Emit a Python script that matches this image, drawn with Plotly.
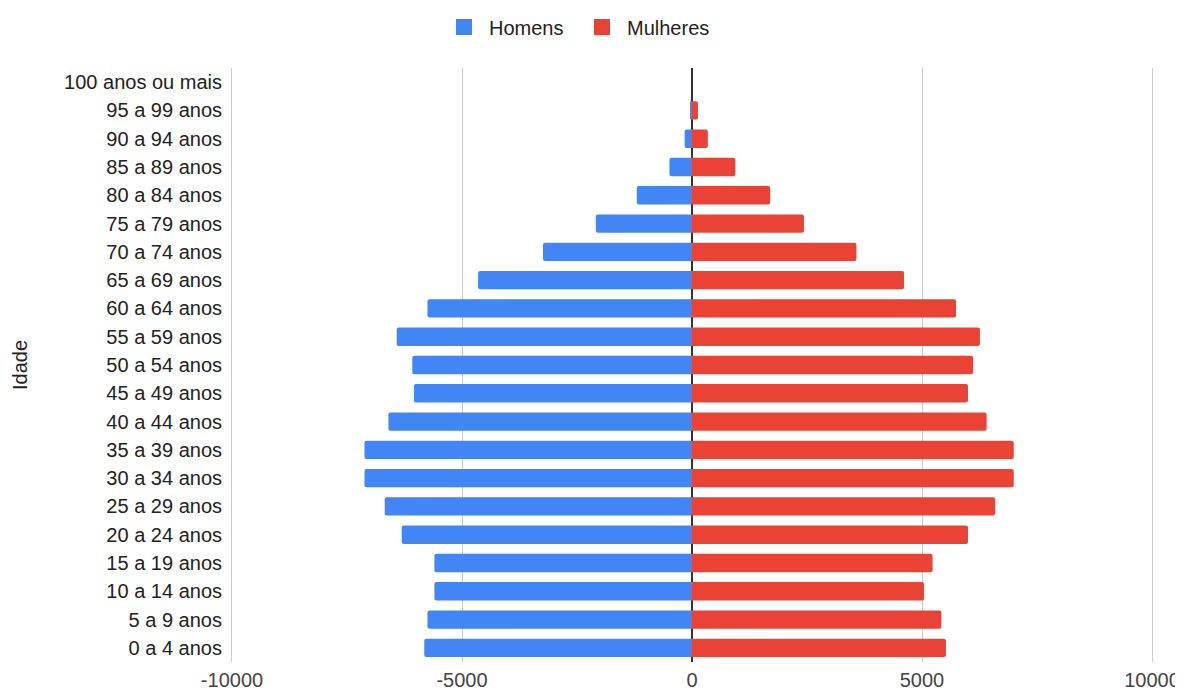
import plotly.graph_objects as go

categorias = ["0 a 4 anos", "5 a 9 anos", "10 a 14 anos", "15 a 19 anos", "20 a 24 anos",
              "25 a 29 anos", "30 a 34 anos", "35 a 39 anos", "40 a 44 anos", "45 a 49 anos",
              "50 a 54 anos", "55 a 59 anos", "60 a 64 anos", "65 a 69 anos", "70 a 74 anos",
              "75 a 79 anos", "80 a 84 anos", "85 a 89 anos", "90 a 94 anos", "95 a 99 anos",
              "100 anos ou mais"]
homens = [-5820, -5750, -5600, -5600, -6310, -6680, -7120, -7120, -6600, -6045,
          -6080, -6420, -5750, -4650, -3240, -2090, -1200, -490, -160, -25, 0]
mulheres = [5520, 5420, 5045, 5230, 6000, 6590, 6995, 6995, 6405, 6000,
            6110, 6260, 5740, 4610, 3575, 2435, 1700, 940, 345, 130, 0]
tick_vals = [-10000, -5000, 0, 5000, 10000]
tick_text = ["-10000", "-5000", "0", "5000", "10000"]

FONT = "Liberation Sans, Arial, sans-serif"
FS = 20
AZUL = "#4285F4"
VERMELHO = "#EA4335"

fig = go.Figure()
fig.add_trace(go.Bar(y=categorias, x=homens, orientation="h", name="Homens",
                     showlegend=False,
                     marker=dict(color=AZUL, line=dict(width=0))))
fig.add_trace(go.Bar(y=categorias, x=mulheres, orientation="h", name="Mulheres",
                     showlegend=False,
                     marker=dict(color=VERMELHO, line=dict(width=0), cornerradius=2)))
# legend entries with larger square swatches
fig.add_trace(go.Scatter(x=[None], y=[None], mode="markers", name="Homens",
                         marker=dict(symbol="square", size=18, color=AZUL)))
fig.add_trace(go.Scatter(x=[None], y=[None], mode="markers", name="Mulheres",
                         marker=dict(symbol="square", size=18, color=VERMELHO)))

fig.update_layout(
    width=1175, height=685,
    barmode="relative", bargap=0.35,
    plot_bgcolor="white", paper_bgcolor="white",
    margin=dict(l=224, r=31, t=60, b=31, autoexpand=False),
    font=dict(family=FONT, size=FS, color="#444444"),
    showlegend=True,
    legend=dict(orientation="h", x=(439 - 232) / 920, xanchor="left",
                yref="container", y=1 - 19 / 685, yanchor="middle",
                itemwidth=40, entrywidth=83, itemsizing="trace",
                font=dict(size=FS, color="#222222"), itemclick=False),
    xaxis=dict(range=[-10000, 10000], tickvals=tick_vals, ticktext=tick_text,
               showgrid=True, gridcolor="#CCCCCC", gridwidth=1,
               zeroline=True, zerolinecolor="#333333", zerolinewidth=1.5,
               showline=False, ticks="", ticklabelstandoff=4, automargin=False,
               tickfont=dict(size=FS, color="#444444")),
    yaxis=dict(type="category", categoryorder="array", categoryarray=categorias,
               showgrid=False, zeroline=False,
               showline=True, mirror=True, linecolor="#CCCCCC", linewidth=1,
               ticks="", ticklabelstandoff=5, automargin=False,
               tickfont=dict(size=FS, color="#222222")),
    annotations=[dict(text="Idade", textangle=-90, xref="paper", yref="paper",
                      x=-(232 - 20) / 920, y=0.5, showarrow=False,
                      xanchor="center", yanchor="middle",
                      font=dict(size=FS, color="#222222"))],
)

fig.write_html("out.html")
